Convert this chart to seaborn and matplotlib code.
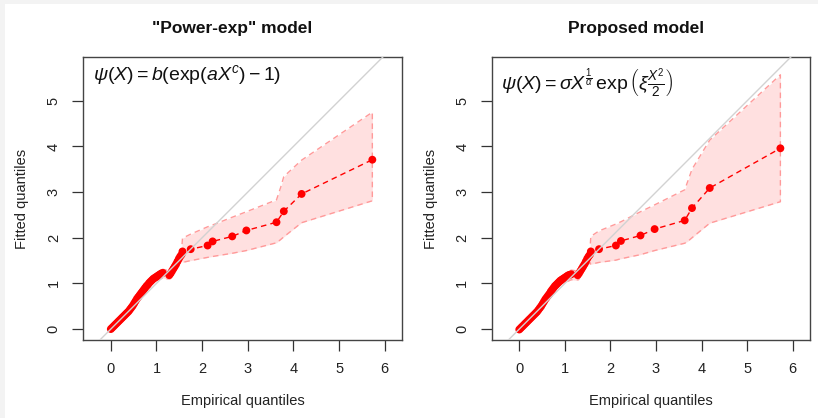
import matplotlib
matplotlib.use("Agg")
import matplotlib.pyplot as plt
import seaborn as sns
import pandas as pd
import numpy as np

# ---------------- data ----------------
titles = ['"Power-exp" model', 'Proposed model']
formulas = [r'$\psi(X) = b(\exp(aX^c) - 1)$',
            r'$\psi(X) = \sigma X^{\frac{1}{\alpha}}\,\exp\left(\xi\frac{X^2}{2}\right)$']

# empirical quantiles (shared by both panels)
emp_q = [0.00, 0.03, 0.06, 0.09, 0.12, 0.15, 0.18, 0.21, 0.24, 0.27, 0.30, 0.33,
         0.36, 0.39, 0.42, 0.45, 0.48, 0.51, 0.54, 0.57, 0.60, 0.63, 0.66, 0.69,
         0.72, 0.75, 0.78, 0.81, 0.84, 0.87, 0.90, 0.93, 0.96, 0.99, 1.02, 1.05,
         1.08, 1.11, 1.14, 1.28, 1.31, 1.34, 1.37, 1.40, 1.43, 1.46, 1.49, 1.52,
         1.55, 1.57, 1.75, 2.12, 2.23, 2.66, 2.97, 3.63, 3.79, 4.18, 5.73]

fit_powexp = [0.00, 0.03, 0.06, 0.09, 0.12, 0.15, 0.18, 0.21, 0.24, 0.27, 0.30, 0.33,
              0.36, 0.39, 0.43, 0.47, 0.51, 0.56, 0.61, 0.66, 0.70, 0.74, 0.78, 0.82,
              0.86, 0.90, 0.94, 0.97, 1.01, 1.04, 1.07, 1.10, 1.12, 1.14, 1.16, 1.18,
              1.20, 1.22, 1.23, 1.18, 1.22, 1.27, 1.32, 1.37, 1.42, 1.48, 1.54, 1.59,
              1.63, 1.70, 1.75, 1.83, 1.92, 2.03, 2.16, 2.34, 2.58, 2.96, 3.71]

fit_proposed = [-0.01, 0.02, 0.05, 0.08, 0.11, 0.14, 0.17, 0.20, 0.23, 0.26, 0.29, 0.32,
                0.35, 0.38, 0.42, 0.46, 0.50, 0.55, 0.60, 0.65, 0.69, 0.73, 0.77, 0.82,
                0.86, 0.90, 0.94, 0.97, 1.00, 1.03, 1.06, 1.08, 1.10, 1.12, 1.14, 1.16,
                1.18, 1.19, 1.20, 1.18, 1.22, 1.27, 1.32, 1.37, 1.42, 1.48, 1.54, 1.59,
                1.63, 1.70, 1.75, 1.83, 1.93, 2.05, 2.19, 2.38, 2.65, 3.09, 3.96]

# confidence band
band_x = [0.00, 0.45, 0.85, 0.95, 1.05, 1.14, 1.22, 1.30, 1.40, 1.50, 1.55, 1.57,
          1.75, 2.12, 2.23, 2.66, 2.97, 3.63, 3.72, 3.79, 4.18, 5.73]
band_hi_powexp = [0.02, 0.50, 1.06, 1.18, 1.27, 1.31, 1.29, 1.27, 1.45, 1.65, 1.72, 1.99,
                  2.08, 2.24, 2.28, 2.45, 2.57, 2.83, 3.10, 3.34, 3.70, 4.75]
band_lo_powexp = [-0.02, 0.44, 0.99, 1.04, 1.08, 1.12, 1.10, 1.10, 1.28, 1.44, 1.50, 1.46,
                  1.50, 1.57, 1.59, 1.66, 1.72, 1.89, 1.96, 2.02, 2.33, 2.81]
band_hi_proposed = [0.01, 0.49, 1.04, 1.16, 1.25, 1.29, 1.28, 1.27, 1.45, 1.66, 1.73, 2.03,
                    2.15, 2.30, 2.35, 2.57, 2.72, 3.05, 3.30, 3.50, 4.14, 5.57]
band_lo_proposed = [-0.03, 0.42, 0.96, 1.00, 1.04, 1.08, 1.07, 1.08, 1.26, 1.40, 1.46, 1.42,
                    1.46, 1.51, 1.54, 1.63, 1.72, 1.88, 1.94, 2.00, 2.32, 2.79]

fits = [fit_powexp, fit_proposed]
bands = [(band_lo_powexp, band_hi_powexp), (band_lo_proposed, band_hi_proposed)]

x_ticks = [0, 1, 2, 3, 4, 5, 6]
y_ticks = [0, 1, 2, 3, 4, 5]
x_label = "Empirical quantiles"
y_label = "Fitted quantiles"

# ---------------- style ----------------
sns.set_theme(style="white")
plt.rcParams['font.family'] = ['Liberation Sans', 'DejaVu Sans']
plt.rcParams['mathtext.fontset'] = 'custom'
plt.rcParams['mathtext.rm'] = 'Liberation Sans'
plt.rcParams['mathtext.it'] = 'Liberation Sans:italic'
plt.rcParams['mathtext.bf'] = 'Liberation Sans:bold'

W, H = 818, 418
fig = plt.figure(figsize=(W / 100, H / 100), dpi=100)
fig.patch.set_facecolor('#f3f3f3')
fig.add_artist(plt.Rectangle((5 / W, 0), (W - 5) / W, (H - 4) / H,
                             transform=fig.transFigure, facecolor='white',
                             edgecolor='none', zorder=-10))

boxes = [(83, 402), (491.5, 810)]
title_cx = [232, 636]
top, bottom = 57, 340

band_fill = '#ffe0e0'
band_edge = '#ff9a9a'
pt_color = '#ff0000'

for i in range(2):
    l, r = boxes[i]
    ax = fig.add_axes([l / W, (H - bottom) / H, (r - l) / W, (bottom - top) / H])
    ax.set_facecolor('white')
    lo, hi = bands[i]
    ax.fill_between(band_x, lo, hi, color=band_fill, lw=0, zorder=1)
    poly_x = list(band_x) + [band_x[-1]] + list(band_x[::-1])
    poly_y = list(hi) + [lo[-1]] + list(lo[::-1])
    ax.plot(poly_x, poly_y, color=band_edge, lw=1.0, ls=(0, (4, 3)), zorder=2)

    df = pd.DataFrame({"emp": emp_q, "fit": fits[i]})
    sns.lineplot(data=df, x="emp", y="fit", sort=False, estimator=None,
                 color=pt_color, lw=1.0, linestyle=(0, (4, 3)), ax=ax, zorder=3)
    sns.scatterplot(data=df, x="emp", y="fit", color=pt_color, s=32,
                    edgecolor='none', ax=ax, zorder=4)
    ax.plot([-1, 7], [-1, 7], color='#d2d2d2', lw=1.0, zorder=5)

    ax.set_xlim(-0.61, 6.38)
    ax.set_ylim(-0.24, 5.96)
    ax.set_xticks(x_ticks)
    ax.set_yticks(y_ticks)
    ax.tick_params(axis='both', direction='out', length=8, width=0.9,
                   color='#333333', labelsize=10.5, labelcolor='#222222', pad=8,
                   bottom=True, left=True)
    for lab in ax.get_yticklabels():
        lab.set_rotation(90)
        lab.set_va('center')
    for sp in ax.spines.values():
        sp.set_color('#444444')
        sp.set_linewidth(1.0)
        sp.set_visible(True)

    ax.set_xlabel(x_label, fontsize=10.5, color='#222222')
    ax.xaxis.label.set_va('center')
    ax.xaxis.set_label_coords(0.5, (bottom - 401.5) / (bottom - top))
    ax.set_ylabel(y_label, fontsize=10.5, color='#222222')
    ax.yaxis.label.set_va('center')
    ax.yaxis.set_label_coords(-61 / (r - l), 0.5)

    ax.text(0.03, (bottom - 75) / (bottom - top) if i == 0 else (bottom - 83) / (bottom - top),
            formulas[i], transform=ax.transAxes, fontsize=14, ha='left', va='center',
            color='#111111')

    fig.text(title_cx[i] / W, 1 - 28 / H, titles[i], ha='center', va='center',
             fontsize=12.5, fontweight='bold', color='#111111')

fig.savefig("out.png", dpi=100)
